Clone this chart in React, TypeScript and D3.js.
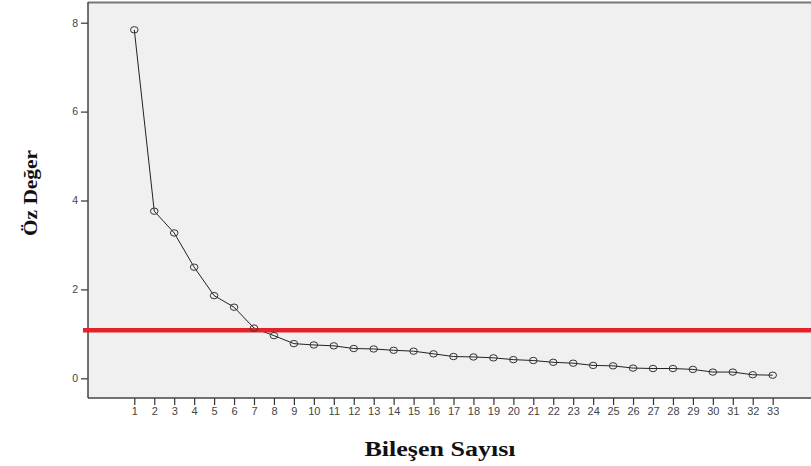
import React, { useEffect, useRef } from 'react';
import * as d3 from 'd3';

const components: number[] = d3.range(1, 34);
const eigenvalues: number[] = [
  7.84, 3.76, 3.27, 2.5, 1.86, 1.6, 1.13, 0.96, 0.78, 0.75, 0.73,
  0.67, 0.66, 0.63, 0.61, 0.55, 0.49, 0.48, 0.46, 0.42, 0.4, 0.36,
  0.34, 0.29, 0.28, 0.23, 0.22, 0.22, 0.2, 0.14, 0.14, 0.08, 0.07,
];
const yTicks: number[] = [0, 2, 4, 6, 8];
const cutoff = 1.08;

const W = 811;
const H = 466;

const App = () => {
  const svgRef = useRef<SVGSVGElement>(null);

  useEffect(() => {
    if (!svgRef.current) return;
    const svg = d3.select(svgRef.current);
    svg.selectAll('*').remove();

    const left = 88, top = 2, right = W, bottom = 398;

    const x = d3.scaleLinear().domain([1, 33]).range([134.3, 772.7]);
    const y = d3.scaleLinear().domain([0, 8]).range([378.3, 22.7]);

    svg.append('rect').attr('width', W).attr('height', H).attr('fill', 'white');

    // plot area
    svg.append('rect')
      .attr('x', left).attr('y', top)
      .attr('width', right - left).attr('height', bottom - top)
      .attr('fill', '#f0f0f0');
    svg.append('line')
      .attr('x1', left).attr('x2', right).attr('y1', top + 0.5).attr('y2', top + 0.5)
      .attr('stroke', '#777').attr('stroke-width', 2);

    // y axis
    const yAxis = svg.append('g').attr('transform', `translate(${left},0)`)
      .call(d3.axisLeft(y).tickValues(yTicks).tickSize(7).tickSizeOuter(0).tickPadding(3));
    yAxis.select('.domain').remove();
    yAxis.selectAll('line').attr('stroke', '#333').attr('stroke-width', 1.2);
    yAxis.selectAll('text').attr('font-family', 'Liberation Sans, Arial, sans-serif')
      .attr('font-size', 10.5).attr('fill', '#444');
    svg.append('line')
      .attr('x1', left).attr('x2', left).attr('y1', top).attr('y2', bottom)
      .attr('stroke', '#444').attr('stroke-width', 1.5);

    // x axis
    const xAxis = svg.append('g').attr('transform', `translate(0,${bottom})`)
      .call(d3.axisBottom(x).tickValues(components).tickFormat(d3.format('d')).tickSize(7).tickSizeOuter(0).tickPadding(2));
    xAxis.select('.domain').remove();
    xAxis.selectAll('line').attr('stroke', '#333').attr('stroke-width', 1.2);
    xAxis.selectAll('text').attr('font-family', 'Liberation Sans, Arial, sans-serif')
      .attr('font-size', 11).attr('fill', '#444');
    svg.append('line')
      .attr('x1', left).attr('x2', right).attr('y1', bottom).attr('y2', bottom)
      .attr('stroke', '#444').attr('stroke-width', 1.5);

    // line
    const line = d3.line<number>()
      .x((_, i) => x(components[i]))
      .y(d => y(d));
    svg.append('path')
      .datum(eigenvalues)
      .attr('d', line)
      .attr('fill', 'none')
      .attr('stroke', '#222')
      .attr('stroke-width', 1);

    // red cutoff line
    svg.append('line')
      .attr('x1', 83).attr('x2', W)
      .attr('y1', y(cutoff)).attr('y2', y(cutoff))
      .attr('stroke', '#e3222a').attr('stroke-width', 4.5);

    // markers
    svg.selectAll('.pt')
      .data(eigenvalues)
      .enter()
      .append('ellipse')
      .attr('class', 'pt')
      .attr('cx', (_, i) => x(components[i]))
      .attr('cy', d => y(d))
      .attr('rx', 3.8).attr('ry', 3.2)
      .attr('fill', 'none')
      .attr('stroke', '#333')
      .attr('stroke-width', 1);

    // titles
    svg.append('text')
      .attr('transform', 'translate(37,193) rotate(-90)')
      .attr('text-anchor', 'middle')
      .attr('font-family', 'Liberation Serif, Times New Roman, serif')
      .attr('font-weight', 'bold')
      .attr('font-size', 19)
      .attr('fill', '#111')
      .attr('textLength', 86)
      .attr('lengthAdjust', 'spacingAndGlyphs')
      .text('Öz Değer');

    svg.append('text')
      .attr('x', 440).attr('y', 456)
      .attr('text-anchor', 'middle')
      .attr('font-family', 'Liberation Serif, Times New Roman, serif')
      .attr('font-weight', 'bold')
      .attr('font-size', 20)
      .attr('fill', '#111')
      .attr('textLength', 151)
      .attr('lengthAdjust', 'spacingAndGlyphs')
      .text('Bileşen Sayısı');
  }, []);

  return (
    <svg ref={svgRef} width={W} height={H}
      style={{ position: 'absolute', left: 0, top: 0, display: 'block' }} />
  );
};

export default App;
